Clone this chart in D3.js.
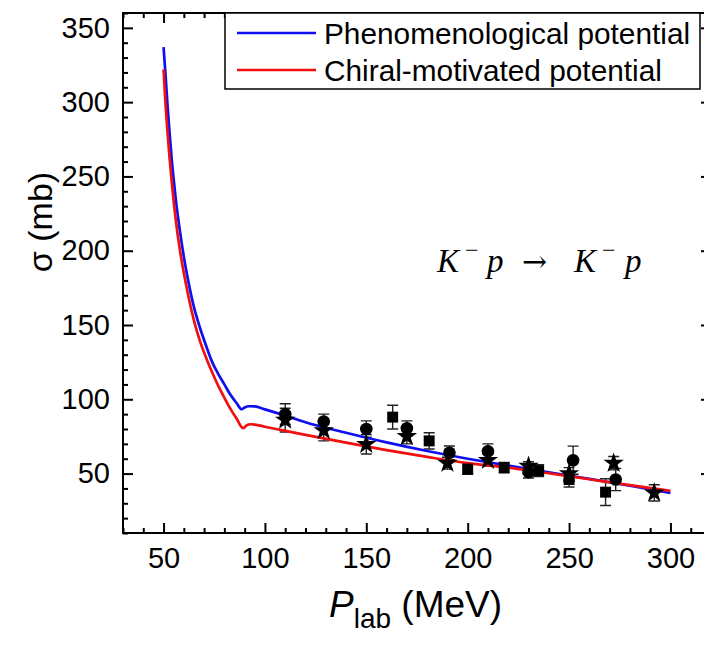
<!DOCTYPE html>
<html>
<head>
<meta charset="utf-8">
<script src="https://cdn.jsdelivr.net/npm/d3@7"></script>
<style>
  body { margin: 0; background: #fff; }
  svg { display: block; }
  text { font-family: "Liberation Sans", Arial, Helvetica, sans-serif; fill: #000; }
</style>
</head>
<body>
<svg id="chart" width="704" height="647"></svg>
<script>
// phenomenological potential (blue)
var phenoP = [50, 51, 52, 53, 54, 55, 56, 58, 60, 62, 65, 68, 71, 74, 77, 80, 83, 86, 88.5, 90, 92, 95, 100, 110, 120, 140, 160, 180, 200, 220, 240, 260, 280, 300];
var phenoSigma = [337, 318, 297, 279, 262, 248, 235, 214, 196, 181, 162, 148, 136, 125, 117, 110, 103, 97.5, 93.3, 94.5, 95.3, 95.2, 93.2, 89, 84.5, 77.5, 71, 65.2, 60, 55.3, 50.8, 46.4, 41.8, 37];

// chiral-motivated potential (red)
var chiralP = [50, 51, 52, 53, 54, 55, 56, 58, 60, 62, 65, 68, 71, 74, 77, 80, 83, 86, 89.3, 91, 93, 95, 100, 110, 120, 140, 160, 180, 200, 220, 240, 260, 280, 300];
var chiralSigma = [322, 298, 279, 262, 247, 233, 221, 201, 185, 171, 153, 139, 128, 118, 109, 101, 93.5, 87, 80.5, 82.5, 83.2, 83, 81.5, 78.7, 76, 70.8, 65.8, 61.2, 57, 54, 50.2, 46.2, 42.2, 38.4];

// experimental points
var circP = [110, 129, 150, 170, 191, 210, 230, 252, 273];
var circSigma = [90, 85, 80, 80.5, 64, 65, 51, 59, 46];
var circErr = [7, 5, 5.5, 5, 4.6, 5, 4, 9.5, 7.5];

var sqP = [163, 181, 200, 218, 235, 250, 268];
var sqSigma = [88, 72, 53, 54, 52, 46, 37.5];
var sqErr = [8, 5.5, 3.5, 3.5, 4, 5, 9];

var starP = [110, 129, 150, 170, 190, 210, 230, 250, 272, 292];
var starSigma = [86, 79, 69.7, 75, 57, 59, 55, 50, 57, 37];
var starErr = [8, 7, 6.5, 5, 4, 4, 3, 4, 4.5, 5.5];

var xTicks = [50, 100, 150, 200, 250, 300];
var yTicks = [50, 100, 150, 200, 250, 300, 350];
var legendLabels = ["Phenomenological potential", "Chiral-motivated potential"];
var lineColors = ["#0f0ff2", "#f20f0f"];

var svg = d3.select("#chart");
var mLeft = 123, mRight = 711, mTop = 13, mBottom = 533;

var x = d3.scaleLinear().domain([30, 320]).range([mLeft, mRight]);
var y = d3.scaleLinear().domain([10, 360]).range([mBottom, mTop]);

var xMinor = d3.range(30, 321, 10).filter(d => xTicks.indexOf(d) < 0);
var yMinor = d3.range(10, 361, 10).filter(d => yTicks.indexOf(d) < 0);

function styleAxis(g) {
  g.select(".domain").remove();
  g.selectAll("line").attr("stroke", "#000").attr("stroke-width", 2);
  g.selectAll("text").style("font-size", "29px").style("font-family", "Liberation Sans, Arial, sans-serif");
}

// bottom axis
svg.append("g").attr("transform", `translate(0,${mBottom})`)
  .call(d3.axisBottom(x).tickValues(xTicks).tickSize(-10).tickPadding(14).tickFormat(d3.format("d")))
  .call(styleAxis);
svg.append("g").attr("transform", `translate(0,${mBottom})`)
  .call(d3.axisBottom(x).tickValues(xMinor).tickSize(-5).tickFormat(""))
  .call(styleAxis);
// top axis
svg.append("g").attr("transform", `translate(0,${mTop})`)
  .call(d3.axisTop(x).tickValues(xTicks).tickSize(-10).tickFormat(""))
  .call(styleAxis);
svg.append("g").attr("transform", `translate(0,${mTop})`)
  .call(d3.axisTop(x).tickValues(xMinor).tickSize(-5).tickFormat(""))
  .call(styleAxis);
// left axis
svg.append("g").attr("transform", `translate(${mLeft},0)`)
  .call(d3.axisLeft(y).tickValues(yTicks).tickSize(-10).tickPadding(13).tickFormat(d3.format("d")))
  .call(styleAxis);
svg.append("g").attr("transform", `translate(${mLeft},0)`)
  .call(d3.axisLeft(y).tickValues(yMinor).tickSize(-5).tickFormat(""))
  .call(styleAxis);
// right axis
svg.append("g").attr("transform", `translate(${mRight},0)`)
  .call(d3.axisRight(y).tickValues(yTicks).tickSize(-10).tickFormat(""))
  .call(styleAxis);
svg.append("g").attr("transform", `translate(${mRight},0)`)
  .call(d3.axisRight(y).tickValues(yMinor).tickSize(-5).tickFormat(""))
  .call(styleAxis);

svg.append("rect")
  .attr("x", mLeft).attr("y", mTop)
  .attr("width", mRight - mLeft).attr("height", mBottom - mTop)
  .attr("fill", "none").attr("stroke", "#000").attr("stroke-width", 2);

// curves
var line = d3.line().x(d => x(d[0])).y(d => y(d[1])).curve(d3.curveMonotoneX);
var curves = [d3.zip(phenoP, phenoSigma), d3.zip(chiralP, chiralSigma)];

// experimental points with error bars
var groups = [
  { type: "circle", pts: d3.zip(circP, circSigma, circErr) },
  { type: "square", pts: d3.zip(sqP, sqSigma, sqErr) },
  { type: "star", pts: d3.zip(starP, starSigma, starErr) }
];

groups.forEach(function (grp) {
  var g = svg.append("g");
  g.selectAll(".eb").data(grp.pts).join("path")
    .attr("d", d => {
      var xx = x(d[0]), y1 = y(d[1] + d[2]), y2 = y(d[1] - d[2]);
      return `M${xx},${y1}V${y2}M${xx - 5.5},${y1}H${xx + 5.5}M${xx - 5.5},${y2}H${xx + 5.5}`;
    })
    .attr("fill", "none").attr("stroke", "#222").attr("stroke-width", 1.4);
});

svg.selectAll(".curve").data(curves).join("path")
  .attr("d", line)
  .attr("fill", "none")
  .attr("stroke", (d, i) => lineColors[i])
  .attr("stroke-width", 2.7);

var symType = { circle: d3.symbolCircle, square: d3.symbolSquare, star: d3.symbolStar };
var symSize = { circle: 125, square: 120, star: 130 };
groups.forEach(function (grp) {
  svg.append("g").selectAll("path").data(grp.pts).join("path")
    .attr("transform", d => `translate(${x(d[0])},${y(d[1])})`)
    .attr("d", d3.symbol().type(symType[grp.type]).size(symSize[grp.type]))
    .attr("fill", "#000");
});

// legend
var lg = svg.append("g");
lg.append("rect").attr("x", 225).attr("y", mTop).attr("width", 475).attr("height", 76)
  .attr("fill", "#fff").attr("stroke", "#000").attr("stroke-width", 1.5);
legendLabels.forEach(function (lab, i) {
  var ly = 33 + i * 37;
  lg.append("line").attr("x1", 237).attr("x2", 316).attr("y1", ly).attr("y2", ly)
    .attr("stroke", lineColors[i]).attr("stroke-width", 2.7);
  lg.append("text").attr("x", 324).attr("y", ly + 10.5)
    .style("font-size", "29.8px").text(lab);
});

// reaction label
var serif = "Liberation Serif, Times New Roman, serif";
var rx = svg.append("text").attr("y", 272)
  .style("font-family", serif).style("font-size", "33px");
rx.append("tspan").attr("x", 437).style("font-style", "italic").text("K");
rx.append("tspan").attr("x", 465).attr("y", 258).style("font-size", "24px").text("\u2212");
rx.append("tspan").attr("x", 487).attr("y", 272).style("font-style", "italic").text("p");
rx.append("tspan").attr("x", 522).style("font-family", "DejaVu Serif, serif").style("font-size", "30px").text("\u2192");
rx.append("tspan").attr("x", 574).style("font-style", "italic").text("K");
rx.append("tspan").attr("x", 602).attr("y", 258).style("font-size", "24px").text("\u2212");
rx.append("tspan").attr("x", 625).attr("y", 272).style("font-style", "italic").text("p");

// axis titles
var xt = svg.append("text").attr("x", 329).attr("y", 617).style("font-size", "37px");
xt.append("tspan").style("font-style", "italic").text("P");
xt.append("tspan").attr("dy", 11).style("font-size", "28px").text("lab");
xt.append("tspan").attr("dy", -11).text(" (MeV)");

svg.append("text")
  .attr("transform", "translate(52,222) rotate(-90)")
  .attr("text-anchor", "middle")
  .style("font-size", "34px")
  .text("\u03c3 (mb)");
</script>
</body>
</html>
